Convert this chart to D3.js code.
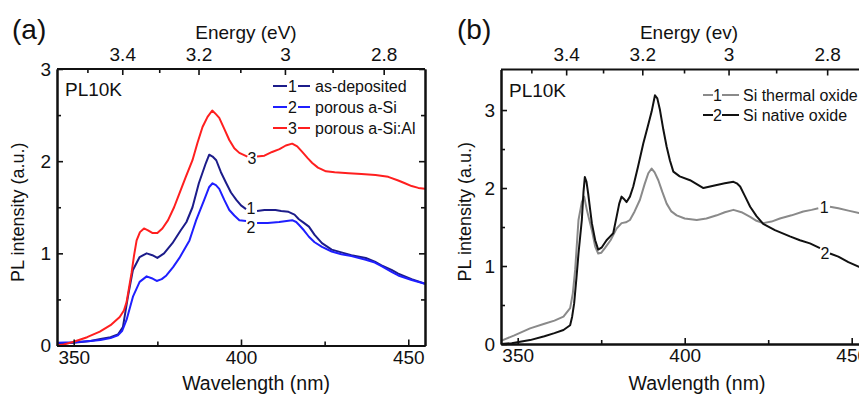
<!DOCTYPE html>
<html><head><meta charset="utf-8">
<script src="https://cdn.jsdelivr.net/npm/d3@7"></script>
<style>body{margin:0;background:#fff;overflow:hidden} svg{display:block;font-family:"Liberation Sans",Arial,sans-serif;}</style>
</head><body><svg id="c" width="859" height="394"></svg>
<script>
const HC = 1239.84; // eV*nm, for the energy axis

// ---------- Panel (a) data: [wavelength nm, PL intensity a.u.] (null = gap at curve label) ----------
const asDeposited = [[345,0.02],[350,0.03],[355,0.05],[358,0.07],[361,0.09],[363.2,0.12],[364.7,0.2],[366.2,0.53],[367.7,0.82],[369.7,0.96],[371.8,1.0],[373.5,0.98],[375,0.95],[377,1.0],[379.5,1.11],[382,1.25],[383.7,1.34],[385.5,1.5],[387.4,1.76],[389.5,1.98],[390.5,2.07],[391.5,2.05],[392.6,2.01],[394,1.88],[395.6,1.76],[397,1.66],[398.6,1.58],[400,1.52],[401.5,1.48],[403,null],[404.8,1.46],[407,1.47],[410.3,1.47],[412,1.46],[414.2,1.45],[416,1.42],[417.3,1.37],[418.8,1.33],[420.3,1.29],[422,1.2],[424.2,1.11],[427.1,1.04],[430,1.01],[433,0.98],[437.3,0.95],[440,0.91],[442,0.87],[445,0.82],[447,0.78],[451,0.72],[455,0.67]];
const porousSi = [[345,0.03],[350,0.035],[355,0.05],[358,0.06],[361,0.08],[363.2,0.11],[364.5,0.16],[365.8,0.28],[367.7,0.53],[369.7,0.69],[371.8,0.75],[373.3,0.73],[374.8,0.7],[376.3,0.72],[377.7,0.76],[379.7,0.85],[381.6,0.95],[384.6,1.14],[385.6,1.25],[386.6,1.36],[389,1.58],[390.5,1.72],[391.5,1.76],[392.5,1.74],[393.5,1.7],[395,1.58],[396.5,1.47],[398,1.41],[399.5,1.36],[401.5,1.35],[403,null],[404.8,1.33],[408,1.33],[411.4,1.34],[415.3,1.36],[416.5,1.34],[417.3,1.31],[418.8,1.25],[420.3,1.18],[422,1.12],[424.2,1.07],[427.1,1.02],[430,0.99],[433,0.97],[437.3,0.93],[440,0.9],[442,0.86],[445,0.8],[447,0.76],[451,0.71],[455,0.67]];
const porousSiAl = [[345,0.0],[347,0.01],[350,0.04],[354,0.09],[357.8,0.15],[361,0.22],[363.75,0.31],[365,0.38],[365.8,0.47],[366.5,0.62],[367.3,0.79],[368,0.97],[368.8,1.14],[369.8,1.23],[371,1.27],[372.2,1.25],[373.6,1.22],[375,1.22],[376.5,1.27],[378.2,1.36],[380,1.5],[381.6,1.65],[383.5,1.83],[385.5,2.01],[387,2.2],[388.5,2.37],[390,2.48],[391.4,2.55],[392.5,2.51],[393.5,2.47],[395,2.35],[396.5,2.23],[398,2.14],[399.5,2.09],[401.9,2.05],[403.3,null],[404.8,2.05],[407,2.06],[409.3,2.1],[411.5,2.13],[413.4,2.17],[415.3,2.19],[416.8,2.16],[418.3,2.1],[420,2.03],[421.3,1.98],[423,1.93],[425.4,1.89],[428,1.88],[432.2,1.87],[436,1.86],[440.2,1.85],[444,1.83],[447,1.79],[449,1.76],[451,1.73],[453,1.71],[455,1.7]];

// ---------- Panel (b) data ----------
const thermalOxide = [[345,0.04],[349,0.11],[353.7,0.2],[358,0.26],[361,0.3],[363.7,0.35],[365.7,0.46],[366.5,0.65],[367.2,0.95],[368.2,1.59],[369.2,1.82],[369.9,1.89],[370.7,1.72],[371.5,1.58],[372.2,1.46],[373.2,1.25],[374.1,1.16],[375,1.17],[376.1,1.23],[377.8,1.33],[379.6,1.48],[381.1,1.55],[382.4,1.56],[383.6,1.59],[385,1.7],[386.6,1.85],[388,2.05],[389.1,2.19],[390.1,2.25],[391,2.2],[392.1,2.1],[393.3,1.95],[394.6,1.8],[396,1.7],[397.6,1.65],[400,1.61],[403.6,1.59],[406.5,1.61],[409.6,1.65],[412,1.69],[414.6,1.72],[417,1.69],[419.6,1.63],[421.5,1.58],[423.5,1.55],[426,1.57],[428.5,1.61],[432,1.65],[435.5,1.7],[438,1.72],[440,1.74],[441.8,null],[443.5,1.76],[446,1.74],[449,1.71],[452.2,1.68],[455,1.66]];
const nativeOxide = [[345,0.0],[348.2,0.01],[353.7,0.05],[358,0.1],[361,0.14],[363.7,0.18],[365.7,0.24],[366.3,0.35],[366.9,0.52],[367.6,0.85],[368.2,1.16],[369.2,1.59],[369.7,1.95],[370.1,2.14],[370.6,2.08],[371.1,1.93],[371.7,1.72],[372.2,1.55],[373.2,1.33],[374.1,1.21],[375.2,1.24],[376.6,1.33],[377.7,1.38],[378.6,1.42],[379.6,1.63],[380.4,1.8],[381.1,1.89],[381.8,1.86],[382.6,1.82],[383.6,1.89],[384.6,2.02],[386,2.27],[387.6,2.57],[389,2.8],[390.1,2.98],[391.1,3.19],[391.8,3.15],[392.6,3.0],[393.6,2.75],[394.6,2.53],[395.6,2.35],[396.6,2.21],[398.5,2.15],[401.6,2.1],[403.6,2.05],[405.6,2.0],[407.6,2.02],[409.6,2.04],[412,2.06],[414.6,2.08],[415.6,2.06],[416.6,2.02],[418,1.9],[419.6,1.76],[421.5,1.64],[423.5,1.54],[427,1.46],[431.5,1.38],[434.5,1.33],[437.5,1.29],[440.5,1.23],[442,null],[443.5,1.16],[446,1.12],[449,1.05],[452.2,0.99],[455,0.95]];

// ---------- Ticks, labels ----------
const wlDomain = [345, 455];
const wlMajorTicks = [350, 400, 450];
const wlMinorTicks = [375, 425];
const energyMajorTicks = [3.4, 3.2, 3.0, 2.8];
const energyMajorLabels = ["3.4", "3.2", "3", "2.8"];
const energyMinorTicks = [3.5, 3.3, 3.1, 2.9];
const yMajorTicks = [0, 1, 2, 3];
const yMinorTicks = [0.5, 1.5, 2.5];
const seriesNamesA = ["as-deposited", "porous a-Si", "porous a-Si:Al"];
const seriesNumsA = ["1", "2", "3"];
const seriesNamesB = ["Si thermal oxide", "Si native oxide"];
const seriesNumsB = ["1", "2"];
const panelLetters = ["(a)", "(b)"];
const energyTitles = ["Energy (eV)", "Energy (ev)"];
const xTitles = ["Wavelength (nm)", "Wavlength (nm)"];
const yTitle = "PL intensity (a.u.)";
const tempLabel = "PL10K";

// ---------- Layout / style ----------
const svg = d3.select("#c");
const panels = [
  {left:57, right:425, top:69, bottom:345.5, ymax:3,
   series:[asDeposited, porousSi, porousSiAl], colors:["#1c1c8a","#1f1fff","#ff1f1f"],
   names:seriesNamesA, nums:seriesNumsA,
   legend:{x1:273, x2:287, nx:292.5, x3:298, x4:310, tx:315, ys:[86,107,128]},
   curveLabels:[{t:"1", s:0, wl:403, dy:-2},{t:"2", s:1, wl:403, dy:5.5},{t:"3", s:2, wl:403.3, dy:2}],
   letterX:12, energyTitleX:246, xTitleX:256, yTitleX:18, yLabelX:51, plX:65},
  {left:501, right:868.4, top:69.5, bottom:344, ymax:3.52,
   series:[thermalOxide, nativeOxide], colors:["#8a8a8a","#111111"],
   names:seriesNamesB, nums:seriesNumsB,
   legend:{x1:703, x2:713, nx:717.5, x3:722, x4:739, tx:743, ys:[95,115]},
   curveLabels:[{t:"1", s:0, wl:441.8, dy:0},{t:"2", s:1, wl:442, dy:2}],
   letterX:457, energyTitleX:689, xTitleX:697, yTitleX:465, yLabelX:496, plX:509}
];

panels.forEach((p, pi) => {
  const x = d3.scaleLinear().domain(wlDomain).range([p.left, p.right]);
  const y = d3.scaleLinear().domain([0, p.ymax]).range([p.bottom, p.top]);
  const g = svg.append("g");

  // curves
  const line = d3.line().defined(d => d[1] !== null).x(d => x(d[0])).y(d => y(d[1]));
  p.series.forEach((s, i) => {
    g.append("path").datum(s).attr("d", line).attr("fill", "none")
      .attr("stroke", p.colors[i]).attr("stroke-width", 2).attr("stroke-linejoin", "round");
  });

  // curve number labels in gaps
  p.curveLabels.forEach(c => {
    const pts = p.series[c.s];
    const idx = pts.findIndex(d => d[1] === null);
    const v = (pts[idx-1][1] + pts[idx+1][1]) / 2;
    g.append("text").attr("x", x(c.wl)).attr("y", y(v) + c.dy).attr("dy", "0.36em")
      .attr("text-anchor", "middle").attr("font-size", 16).attr("fill", "#111").text(c.t);
  });

  // axes
  const axStyle = sel => {
    sel.select(".domain").attr("stroke", "#111").attr("stroke-width", 2);
    sel.selectAll(".tick line").attr("stroke", "#111").attr("stroke-width", 1.6);
    sel.selectAll(".tick text").attr("fill", "#111").attr("font-size", 19).attr("font-family", "Liberation Sans, Arial, sans-serif");
  };
  g.append("g").attr("transform", `translate(0,${p.bottom})`)
    .call(d3.axisBottom(x).tickValues(wlMajorTicks).tickSize(-6).tickSizeOuter(0).tickPadding(5).tickFormat(d3.format("d"))).call(axStyle);
  g.append("g").attr("transform", `translate(0,${p.bottom})`)
    .call(d3.axisBottom(x).tickValues(wlMinorTicks).tickSize(-4).tickSizeOuter(0).tickFormat("")).call(axStyle);
  g.append("g").attr("transform", `translate(${p.left},0)`)
    .call(d3.axisLeft(y).tickValues(yMajorTicks).tickSize(-6).tickSizeOuter(0).tickPadding(6).tickFormat(d3.format("d"))).call(axStyle);
  g.append("g").attr("transform", `translate(${p.left},0)`)
    .call(d3.axisLeft(y).tickValues(yMinorTicks).tickSize(-4).tickSizeOuter(0).tickFormat("")).call(axStyle);
  g.append("g").attr("transform", `translate(${p.right},0)`)
    .call(d3.axisRight(y).tickValues(yMajorTicks).tickSize(-6).tickSizeOuter(0).tickFormat("")).call(axStyle);
  g.append("g").attr("transform", `translate(${p.right},0)`)
    .call(d3.axisRight(y).tickValues(yMinorTicks).tickSize(-4).tickSizeOuter(0).tickFormat("")).call(axStyle);
  // top frame line
  g.append("line").attr("x1", p.left).attr("x2", p.right).attr("y1", p.top).attr("y2", p.top)
    .attr("stroke", "#111").attr("stroke-width", 2);

  // top energy axis (E = hc / lambda)
  g.selectAll(".emaj").data(energyMajorTicks).join("line")
    .attr("x1", e => x(HC / e)).attr("x2", e => x(HC / e))
    .attr("y1", p.top).attr("y2", p.top + 6).attr("stroke", "#111").attr("stroke-width", 1.6);
  g.selectAll(".emin").data(energyMinorTicks).join("line")
    .attr("x1", e => x(HC / e)).attr("x2", e => x(HC / e))
    .attr("y1", p.top).attr("y2", p.top + 4).attr("stroke", "#111").attr("stroke-width", 1.6);
  g.selectAll(".elab").data(energyMajorTicks).join("text")
    .attr("x", e => x(HC / e)).attr("y", 61).attr("text-anchor", "middle")
    .attr("font-size", 19).attr("fill", "#111").text((e, i) => energyMajorLabels[i]);

  // titles
  g.append("text").attr("x", p.energyTitleX).attr("y", 38.5).attr("text-anchor", "middle")
    .attr("font-size", 19).attr("fill", "#111").text(energyTitles[pi]);
  g.append("text").attr("x", p.xTitleX).attr("y", 390).attr("text-anchor", "middle")
    .attr("font-size", 19.5).attr("fill", "#111").text(xTitles[pi]);
  g.append("text").attr("transform", `translate(${p.yTitleX},${(p.top + p.bottom) / 2 + 5}) rotate(-90)`)
    .attr("dy", "0.36em").attr("text-anchor", "middle").attr("font-size", 18).attr("fill", "#111").text(yTitle);
  g.append("text").attr("x", p.letterX).attr("y", 39).attr("font-size", 28).attr("fill", "#111").text(panelLetters[pi]);
  g.append("text").attr("x", p.plX).attr("y", (pi === 0 ? 89 : 90)).attr("dy", "0.36em")
    .attr("font-size", 19).attr("fill", "#111").text(tempLabel);

  // legend
  const L = p.legend;
  p.names.forEach((n, i) => {
    const yy = L.ys[i];
    g.append("line").attr("x1", L.x1).attr("x2", L.x2).attr("y1", yy).attr("y2", yy)
      .attr("stroke", p.colors[i]).attr("stroke-width", 2);
    g.append("line").attr("x1", L.x3).attr("x2", L.x4).attr("y1", yy).attr("y2", yy)
      .attr("stroke", p.colors[i]).attr("stroke-width", 2);
    g.append("text").attr("x", L.nx).attr("y", yy).attr("dy", "0.36em").attr("text-anchor", "middle")
      .attr("font-size", 16).attr("fill", "#111").text(p.nums[i]);
    g.append("text").attr("x", L.tx).attr("y", yy).attr("dy", "0.36em")
      .attr("font-size", 16).attr("fill", "#111").text(n);
  });
});
</script></body></html>
